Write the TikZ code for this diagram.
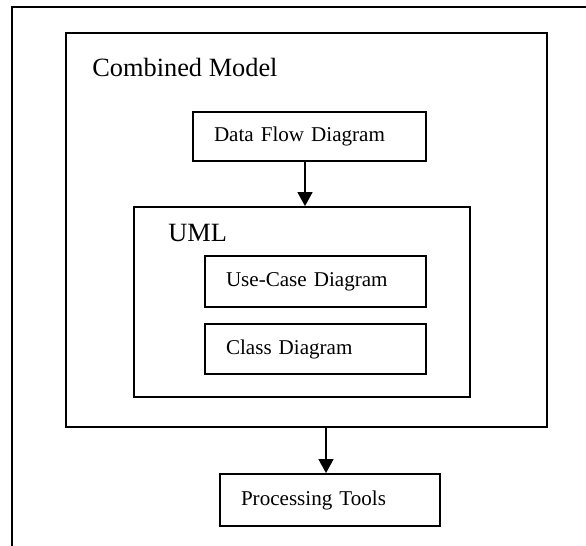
\documentclass[tikz,border=0pt]{standalone}
\usepackage{fontspec}
\setmainfont{Liberation Serif}
\usetikzlibrary{arrows.meta, positioning, calc}

\tikzset{
  part/.style={draw, rectangle, line width=1pt, inner xsep=0.42cm, align=left,
    text height=7pt, text depth=1pt, font=\fontsize{12}{14}\selectfont},
  group/.style={draw, rectangle, line width=1pt},
  title/.style={anchor=base west, inner sep=0pt, font=\fontsize{15}{18}\selectfont},
  flow/.style={line width=1pt, -{Triangle[length=8pt, width=8.5pt]}}
}

\begin{document}
\begin{tikzpicture}[x=0.02cm, y=-0.02cm]
  \useasboundingbox (0,0) rectangle (586,546);
  % page frame (cut at right and bottom)
  \draw[line width=1.1pt] (12,546) -- (12,7) -- (586,7);
  % combined model
  \node[group, minimum width=9.62cm, minimum height=7.88cm] (comb) at (306.5,230) {};
  \node[title] (combtitle) at (92,77) {Combined Model};
  \node[part, text width=3.82cm, minimum height=0.98cm] (dfd) at (309.5,136.5) {Data Flow Diagram};
  % UML part
  \node[group, minimum width=6.72cm, minimum height=3.8cm] (uml) at (302,302) {};
  \node[title] (umltitle) at (168,242) {UML};
  \node[part, text width=3.58cm, minimum height=1.02cm] (usecase) at (315.5,281.5) {Use-Case Diagram};
  \node[part, text width=3.58cm, minimum height=1.0cm] (class) at (315.5,349) {Class Diagram};
  \node[part, text width=3.56cm, minimum height=1.04cm] (proc) at (330,500) {Processing Tools};
  \draw[flow] ([xshift=-0.09cm]dfd.south) -- ([xshift=-0.09cm]dfd.south |- uml.north);
  \draw[flow] ([xshift=-0.08cm]proc.north |- comb.south) -- ([xshift=-0.08cm]proc.north);
\end{tikzpicture}
\end{document}
